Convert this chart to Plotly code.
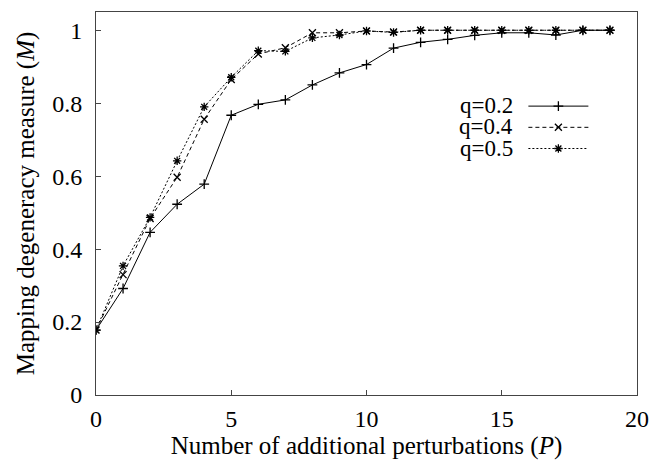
import plotly.graph_objects as go

perturbations = list(range(20))
q02 = [0.178, 0.292, 0.446, 0.523, 0.578, 0.767, 0.797, 0.809, 0.850, 0.883,
       0.906, 0.951, 0.967, 0.975, 0.986, 0.993, 0.993, 0.987, 1.0, 1.0]
q04 = [0.178, 0.330, 0.484, 0.597, 0.756, 0.865, 0.935, 0.952, 0.993, 0.993,
       0.998, 0.995, 1.0, 1.0, 1.0, 1.0, 1.0, 1.0, 1.0, 1.0]
q05 = [0.178, 0.354, 0.487, 0.642, 0.790, 0.871, 0.944, 0.942, 0.979, 0.987,
       0.998, 0.994, 1.0, 1.0, 1.0, 1.0, 1.0, 1.0, 1.0, 1.0]
series_names = ["q=0.2", "q=0.4", "q=0.5"]
x_ticks = [0, 5, 10, 15, 20]
y_ticks = [0, 0.2, 0.4, 0.6, 0.8, 1]
y_tick_labels = ["0", "0.2", "0.4", "0.6", "0.8", "1"]

FONT = "Times New Roman, Liberation Serif, serif"
styles = [
    dict(dash="solid", symbol="cross-thin-open", size=7),
    dict(dash="4px,3px", symbol="x-thin-open", size=7),
    dict(dash="2px,2px", symbol="asterisk-open", size=7),
]

fig = go.Figure()
for name, vals, st in zip(series_names, [q02, q04, q05], styles):
    fig.add_trace(go.Scatter(
        x=perturbations, y=vals, name="", legendgroup=name, mode="lines+markers",
        line=dict(color="black", width=1, dash=st["dash"]),
        marker=dict(symbol=st["symbol"], size=st["size"], color="black",
                    line=dict(color="black", width=1.3)),
        hovertemplate=name + ": %{y}<extra></extra>",
    ))

# legend labels (gnuplot style: text on the left of the sample)
label_y = [0.757, 0.700, 0.643]
for name, ly in zip(series_names, label_y):
    fig.add_annotation(text=name, x=0.7745, y=ly, xref="paper", yref="paper",
                       xanchor="right", yanchor="middle", showarrow=False,
                       font=dict(family=FONT, size=23, color="black"))

axis_common = dict(
    showline=True, linecolor="#444", linewidth=1, mirror=True,
    ticks="inside", ticklen=5, tickcolor="#444", tickwidth=1,
    showgrid=False, zeroline=False, automargin=False,
    tickfont=dict(family=FONT, size=24, color="black"),
)

fig.update_layout(
    width=650, height=466,
    margin=dict(l=96, r=13, t=12, b=71),
    paper_bgcolor="white", plot_bgcolor="white",
    font=dict(family=FONT, size=24, color="black"),
    showlegend=True,
    xaxis=dict(range=[0, 20], tickvals=x_ticks, ticklabelstandoff=2,
               title=dict(text="Number of additional perturbations (<i>P</i>)",
                          font=dict(family=FONT, size=25), standoff=0),
               **axis_common),
    yaxis=dict(range=[0, 1.05], tickvals=y_ticks, ticktext=y_tick_labels,
               ticklabelstandoff=8,
               title=dict(text="Mapping degeneracy measure (<i>M</i>)",
                          font=dict(family=FONT, size=25), standoff=10),
               **axis_common),
    legend=dict(x=0.79, y=0.795, xanchor="left", yanchor="top",
                bgcolor="rgba(0,0,0,0)", font=dict(family=FONT, size=14),
                tracegroupgap=0, itemwidth=60),
)

fig.write_html("out.html",
               config={"displayModeBar": False},
               post_script="document.body.style.margin='0';"
                           "document.body.style.padding='0';")
